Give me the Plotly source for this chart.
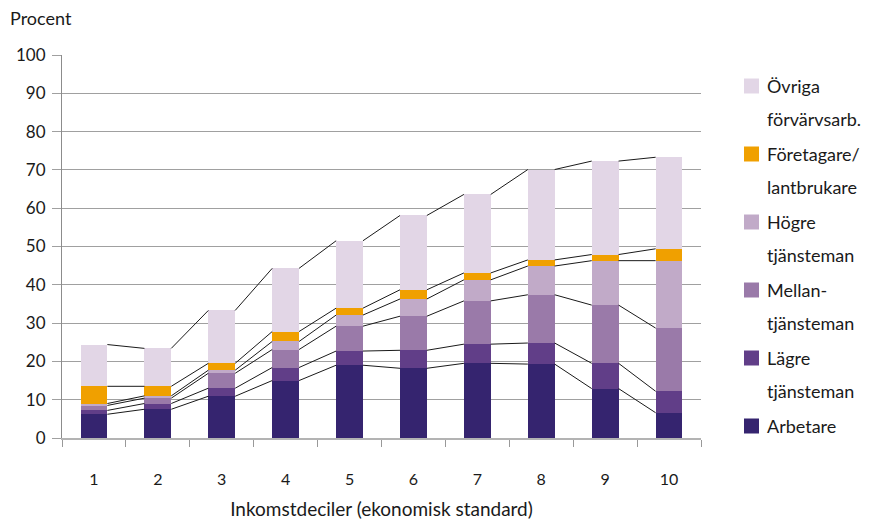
import numpy as np
import plotly.graph_objects as go

# ---- data ----
deciles = [1, 2, 3, 4, 5, 6, 7, 8, 9, 10]
tick_labels = ["1", "2", "3", "4", "5", "6", "7", "8", "9", "10"]

arbetare = [6.2, 7.5, 10.9, 15.0, 19.0, 18.2, 19.5, 19.3, 12.9, 6.6]
lagre = [1.0, 1.5, 2.1, 3.4, 3.7, 4.7, 5.0, 5.5, 6.6, 5.6]
mellan = [1.3, 1.4, 3.9, 4.7, 6.5, 8.9, 11.3, 12.6, 15.2, 16.5]
hogre = [0.5, 0.6, 0.8, 2.1, 2.9, 4.5, 5.5, 7.5, 11.6, 17.6]
foretagare = [4.5, 2.5, 1.8, 2.6, 1.8, 2.4, 1.8, 1.6, 1.6, 3.1]
ovriga = [10.9, 9.9, 13.8, 16.5, 17.6, 19.4, 20.5, 23.6, 24.4, 23.9]

series_names = ["Arbetare", "Lägre tjänsteman", "Mellantjänsteman",
                "Högre tjänsteman", "Företagare/lantbrukare", "Övriga förvärvsarb."]
legend_lines = [
    ("Övriga", "förvärvsarb."),
    ("Företagare/", "lantbrukare"),
    ("Högre", "tjänsteman"),
    ("Mellan-", "tjänsteman"),
    ("Lägre", "tjänsteman"),
    ("Arbetare", ""),
]
y_title = "Procent"
x_title = "Inkomstdeciler (ekonomisk standard)"

# ---- style ----
colors = ["#35246f", "#613e88", "#9a7aa9", "#c1aac8", "#f0a000", "#e2d6e6"]
legend_colors = ["#e2d6e6", "#f0a000", "#c1aac8", "#9a7aa9", "#613e88", "#35246f"]
FONT = "Lato"
TXT = "#1a1a1a"
BAR_W = 0.42

# page body has an 8px margin, so the figure is drawn 8px smaller / offset
OFF = 8
W, H = 870 - OFF, 520 - OFF
PLOT_L, PLOT_R, PLOT_T, PLOT_B = 62, 701, 55, 438  # target screen pixels
ML, MR, MT, MB = PLOT_L - OFF, 870 - PLOT_R, PLOT_T - OFF, 520 - PLOT_B
PW, PH = PLOT_R - PLOT_L, PLOT_B - PLOT_T


def px_x(x):
    return (x - PLOT_L) / PW


def px_y(y):
    return (PLOT_B - y) / PH


series = [arbetare, lagre, mellan, hogre, foretagare, ovriga]

fig = go.Figure()
for name, vals, col in zip(series_names, series, colors):
    fig.add_trace(go.Bar(x=deciles, y=vals, name=name, width=BAR_W,
                         marker=dict(color=col, line=dict(width=0)),
                         showlegend=False))

# connector lines between stacked levels
cum = np.cumsum(np.array(series), axis=0)
xs = np.array(deciles, dtype=float)
for level in cum:
    lx, ly = [], []
    for i in range(len(xs) - 1):
        lx += [xs[i] + BAR_W / 2, xs[i + 1] - BAR_W / 2, None]
        ly += [level[i], level[i + 1], None]
    fig.add_trace(go.Scatter(x=lx, y=ly, mode="lines",
                             line=dict(color="#1a1a1a", width=1),
                             showlegend=False, hoverinfo="skip"))

annotations = [dict(text=y_title, xref="paper", yref="paper",
                    x=px_x(8), y=px_y(18), xanchor="left", yanchor="middle",
                    showarrow=False, font=dict(family=FONT, size=18, color=TXT))]
shapes = []
for k, ((l1, l2), col) in enumerate(zip(legend_lines, legend_colors)):
    yc = 86 + 68 * k
    shapes.append(dict(type="rect", xref="paper", yref="paper",
                       x0=px_x(744), x1=px_x(759), y0=px_y(yc - 7.5), y1=px_y(yc + 7.5),
                       fillcolor=col, line=dict(width=0)))
    annotations.append(dict(text=l1, xref="paper", yref="paper", x=px_x(765),
                            y=px_y(yc), xanchor="left", yanchor="middle", showarrow=False,
                            font=dict(family=FONT, size=18, color=TXT)))
    if l2:
        annotations.append(dict(text=l2, xref="paper", yref="paper", x=px_x(765),
                                y=px_y(yc + 33), xanchor="left", yanchor="middle",
                                showarrow=False, font=dict(family=FONT, size=18, color=TXT)))

fig.update_layout(
    width=W, height=H, barmode="stack", bargap=0,
    margin=dict(l=ML, r=MR, t=MT, b=MB, pad=0, autoexpand=False),
    paper_bgcolor="white", plot_bgcolor="white",
    font=dict(family=FONT, size=16, color=TXT),
    annotations=annotations, shapes=shapes, showlegend=False,
    xaxis=dict(range=[0.5, 10.5], tickmode="array", tickvals=deciles, ticktext=tick_labels,
               ticks="", showgrid=False, zeroline=False, automargin=False,
               showline=True, linecolor="#b3b3b3", linewidth=2,
               ticklabelstandoff=26, tickfont=dict(family=FONT, size=16, color=TXT),
               minor=dict(tickmode="array", tickvals=[d - 0.5 for d in deciles] + [10.5],
                          ticks="outside", ticklen=7, tickcolor="#999999", tickwidth=1,
                          showgrid=False),
               title=dict(text=x_title, standoff=15, font=dict(family=FONT, size=19, color=TXT))),
    yaxis=dict(range=[0, 100], dtick=10, showgrid=True, gridcolor="#a0a0a0", gridwidth=1,
               zeroline=False, showline=True, linecolor="#8c8c8c", linewidth=1, automargin=False,
               ticks="outside", ticklen=9, tickcolor="#a0a0a0", ticklabelstandoff=3,
               tickfont=dict(family=FONT, size=17, color=TXT)),
)

fig.write_html("out.html")
